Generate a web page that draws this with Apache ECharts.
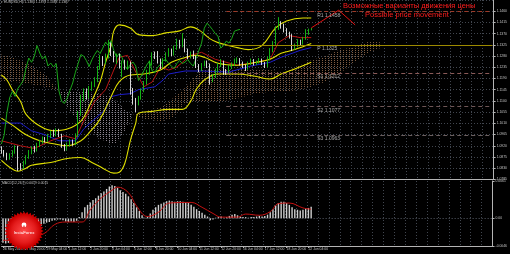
<!DOCTYPE html>
<html><head><meta charset="utf-8">
<script src="https://cdn.jsdelivr.net/npm/echarts@6/dist/echarts.min.js"></script>
<style>html,body{margin:0;padding:0;background:#000;}#c{width:510px;height:254px;}</style>
</head><body><div id="c"></div>
<script>
// ---------- data ----------
const symbolName = 'EURUSD,H4';
const dateLabels = ['26 May 2015','27 May 20:00','29 May 04:00','1 Jun 12:00','2 Jun 20:00','4 Jun 04:00','5 Jun 12:00','8 Jun 20:00','10 Jun 04:00','11 Jun 12:00','12 Jun 20:00','16 Jun 04:00','17 Jun 12:00','18 Jun 20:00','22 Jun 04:00'];
const barsPerLabel = 8;
const slotCount = 180;
// H4 candles: [open, close, low, high]
const ohlc = [
[1.0910,1.0895,1.0888,1.0918],[1.0895,1.0885,1.0876,1.0903],[1.0885,1.0870,1.0862,1.0892],[1.0870,1.0882,1.0864,1.0890],
[1.0882,1.0893,1.0876,1.0902],[1.0893,1.0915,1.0888,1.0922],[1.0915,1.0842,1.0819,1.0920],[1.0842,1.0831,1.0822,1.0850],
[1.0831,1.0852,1.0826,1.0860],[1.0852,1.0874,1.0845,1.0882],[1.0874,1.0895,1.0868,1.0903],[1.0895,1.0910,1.0886,1.0918],
[1.0910,1.0902,1.0893,1.0920],[1.0902,1.0925,1.0897,1.0932],[1.0925,1.0936,1.0915,1.0944],[1.0936,1.0948,1.0928,1.0957],
[1.0948,1.0942,1.0933,1.0955],[1.0942,1.0960,1.0936,1.0968],[1.0960,1.0972,1.0951,1.0981],[1.0972,1.0965,1.0956,1.0985],
[1.0965,1.0982,1.0958,1.0990],[1.0982,1.0962,1.0955,1.0988],[1.0962,1.0920,1.0912,1.0968],[1.0920,1.0908,1.0898,1.0927],
[1.0908,1.0926,1.0901,1.0933],[1.0926,1.0938,1.0918,1.0946],[1.0938,1.0927,1.0920,1.0945],[1.0927,1.0962,1.0922,1.0970],
[1.0962,1.1052,1.0955,1.1060],[1.1052,1.1112,1.1040,1.1125],[1.1112,1.1138,1.1098,1.1150],[1.1138,1.1118,1.1105,1.1150],
[1.1118,1.1150,1.1110,1.1160],[1.1150,1.1165,1.1140,1.1178],[1.1165,1.1182,1.1155,1.1195],[1.1182,1.1232,1.1175,1.1240],
[1.1232,1.1272,1.1225,1.1285],[1.1272,1.1255,1.1240,1.1280],[1.1255,1.1278,1.1248,1.1290],[1.1278,1.1322,1.1270,1.1345],
[1.1322,1.1292,1.1280,1.1335],[1.1292,1.1268,1.1255,1.1300],[1.1268,1.1281,1.1248,1.1290],[1.1281,1.1240,1.1230,1.1290],
[1.1240,1.1252,1.1195,1.1262],[1.1252,1.1236,1.1225,1.1265],[1.1236,1.1250,1.1228,1.1262],[1.1250,1.1140,1.1125,1.1258],
[1.1140,1.1098,1.1085,1.1152],[1.1098,1.1090,1.1055,1.1112],[1.1090,1.1112,1.1082,1.1120],[1.1112,1.1142,1.1105,1.1150],
[1.1142,1.1172,1.1135,1.1180],[1.1172,1.1215,1.1165,1.1225],[1.1215,1.1250,1.1205,1.1262],[1.1250,1.1286,1.1242,1.1295],
[1.1286,1.1280,1.1268,1.1298],[1.1280,1.1262,1.1250,1.1300],[1.1262,1.1238,1.1228,1.1270],[1.1238,1.1265,1.1232,1.1272],
[1.1265,1.1286,1.1258,1.1295],[1.1286,1.1302,1.1278,1.1312],[1.1302,1.1290,1.1280,1.1310],[1.1290,1.1312,1.1282,1.1322],
[1.1312,1.1336,1.1305,1.1350],[1.1336,1.1322,1.1310,1.1345],[1.1322,1.1342,1.1315,1.1372],[1.1342,1.1302,1.1295,1.1350],
[1.1302,1.1276,1.1268,1.1310],[1.1276,1.1290,1.1270,1.1298],[1.1290,1.1275,1.1268,1.1302],[1.1275,1.1240,1.1232,1.1282],
[1.1240,1.1226,1.1215,1.1248],[1.1226,1.1246,1.1220,1.1252],[1.1246,1.1256,1.1238,1.1262],[1.1256,1.1240,1.1232,1.1262],
[1.1240,1.1182,1.1165,1.1250],[1.1182,1.1200,1.1175,1.1208],[1.1200,1.1222,1.1192,1.1230],[1.1222,1.1244,1.1215,1.1252],
[1.1244,1.1260,1.1236,1.1268],[1.1260,1.1220,1.1205,1.1262],[1.1220,1.1214,1.1205,1.1228],[1.1214,1.1236,1.1208,1.1244],
[1.1236,1.1246,1.1228,1.1255],[1.1246,1.1262,1.1240,1.1270],[1.1262,1.1266,1.1252,1.1275],[1.1266,1.1250,1.1242,1.1272],
[1.1250,1.1240,1.1232,1.1258],[1.1240,1.1230,1.1220,1.1246],[1.1230,1.1250,1.1225,1.1258],[1.1250,1.1262,1.1244,1.1270],
[1.1262,1.1250,1.1242,1.1268],[1.1250,1.1256,1.1245,1.1262],[1.1256,1.1266,1.1250,1.1272],[1.1266,1.1250,1.1244,1.1270],
[1.1250,1.1240,1.1232,1.1256],[1.1240,1.1270,1.1235,1.1278],[1.1270,1.1302,1.1262,1.1312],[1.1302,1.1332,1.1295,1.1340],
[1.1332,1.1392,1.1325,1.1400],[1.1392,1.1412,1.1385,1.1436],[1.1412,1.1400,1.1390,1.1420],[1.1400,1.1386,1.1375,1.1410],
[1.1386,1.1370,1.1360,1.1392],[1.1370,1.1360,1.1350,1.1378],[1.1360,1.1312,1.1300,1.1368],[1.1312,1.1322,1.1305,1.1330],
[1.1322,1.1340,1.1315,1.1348],[1.1340,1.1332,1.1322,1.1346],[1.1332,1.1350,1.1326,1.1357],[1.1350,1.1380,1.1345,1.1388],
[1.1380,1.1384,1.1365,1.1390],[1.1384,1.1387,1.1383,1.1393]
];
// yellow band lines: [bar index, price]
const bandUpper = [[0,1.1204],[2,1.1184],[4,1.1145],[7,1.1098],[9,1.1046],[14,1.0999],[19,1.0980],[24,1.0987],[29,1.1019],[32,1.1078],[36,1.1177],[38,1.1255],[40,1.1322],[41,1.1381],[43,1.1405],[47,1.1393],[50,1.1366],[55,1.1362],[60,1.1373],[65,1.1381],[69,1.1397],[72,1.1385],[76,1.1350],[79,1.1334],[86,1.1314],[90,1.1306],[95,1.1322],[100,1.1393],[104,1.1421],[110,1.1433],[113,1.1433]];
const bandMiddle = [[0,1.1031],[4,1.1003],[9,1.0964],[14,1.0940],[19,1.0928],[24,1.0920],[29,1.0940],[32,1.0972],[36,1.1027],[40,1.1117],[43,1.1177],[47,1.1204],[52,1.1208],[58,1.1224],[62,1.1255],[66,1.1271],[71,1.1283],[74,1.1275],[79,1.1251],[86,1.1243],[93,1.1255],[98,1.1267],[102,1.1291],[107,1.1306],[113,1.1330]];
const bandLower = [[0,1.0861],[3,1.0834],[6,1.0818],[9,1.0830],[11,1.0842],[18,1.0853],[24,1.0869],[29,1.0873],[33,1.0853],[37,1.0830],[41,1.0810],[43,1.0814],[45,1.0849],[47,1.0940],[49,1.1011],[50,1.1050],[55,1.1058],[61,1.1066],[66,1.1066],[69,1.1098],[71,1.1145],[74,1.1184],[79,1.1208],[86,1.1208],[92,1.1200],[98,1.1188],[102,1.1208],[107,1.1228],[113,1.1255]];
// Ichimoku lines: [bar index, price]
const tenkan = [[0,1.0940],[7,1.0920],[12,1.0909],[18,1.0940],[23,1.0960],[27,1.0948],[30,1.1019],[34,1.1098],[38,1.1145],[41,1.1224],[43,1.1275],[46,1.1283],[49,1.1216],[52,1.1157],[55,1.1176],[58,1.1236],[61,1.1224],[64,1.1236],[69,1.1283],[73,1.1295],[78,1.1267],[86,1.1243],[93,1.1255],[98,1.1267],[101,1.1334],[105,1.1362],[109,1.1354],[113,1.1354]];
const kijun = [[0,1.1011],[7,1.1011],[11,1.0980],[16,1.0964],[21,1.0940],[27,1.0940],[30,1.0987],[34,1.1027],[38,1.1066],[40,1.1117],[43,1.1125],[47,1.1129],[50,1.1145],[56,1.1157],[59,1.1184],[61,1.1208],[67,1.1220],[73,1.1220],[83,1.1216],[91,1.1240],[98,1.1255],[102,1.1275],[109,1.1303],[113,1.1314]];
const chikouShift = 26;
// Kumo: [bar index, senkou span A, senkou span B]
const cloudEarly = [[0,1.1287,1.1176],[5,1.1271,1.1176],[10,1.1247,1.1169],[16,1.1208,1.1157],[20,1.1153,1.1145],[21,1.1140,1.1140]];
const cloudMid = [[21,1.1140,1.1140],[25,1.1058,1.1137],[30,1.0999,1.1137],[36,1.0948,1.1129],[40,1.0928,1.1117],[42,1.0932,1.1098],[45,1.0980,1.1066],[47,1.1027,1.1050],[48,1.1045,1.1045]];
const cloudLate = [[48,1.1045,1.1045],[52,1.1058,1.1027],[58,1.1074,1.1019],[62,1.1106,1.1027],[67,1.1153,1.1090],[70,1.1192,1.1098],[73,1.1224,1.1098],[79,1.1224,1.1098],[85,1.1228,1.1106],[92,1.1228,1.1129],[98,1.1224,1.1137],[103,1.1216,1.1137],[109,1.1243,1.1145],[113,1.1263,1.1157],[118,1.1279,1.1176],[123,1.1303,1.1208],[129,1.1318,1.1255],[134,1.1338,1.1295],[138,1.1338,1.1310]];
// weekly pivot levels
const pivotNames = ['R1','P','S1','S2','S3'];
const pivotValues = [1.1458,1.1325,1.1212,1.1077,1.0963];
const pivotStartBar = 82;
const pivotLabelBar = 115;
// projected move drawn on chart: [bar index, price]
const projection = [[113,1.1393],[123,1.1464],[129,1.1405]];
// MACD(12,26,9)
const macdHist = [-0.0040,-0.0041,-0.0040,-0.0039,-0.0038,-0.0036,-0.0036,-0.0034,-0.0031,-0.0028,
-0.0025,-0.0022,-0.0019,-0.0015,-0.0012,-0.0009,-0.0007,-0.0006,-0.0004,-0.0003,
-0.0002,-0.0002,-0.0003,-0.0005,-0.0006,-0.0005,-0.0006,-0.0004,0.0002,0.0010,
0.0018,0.0022,0.0026,0.0030,0.0033,0.0037,0.0041,0.0044,0.0048,0.0052,
0.0054,0.0053,0.0050,0.0046,0.0043,0.0040,0.0036,0.0031,0.0025,0.0018,
0.0012,0.0005,0.0001,0.0003,0.0008,0.0014,0.0018,0.0022,0.0024,0.0026,
0.0028,0.0029,0.0028,0.0027,0.0028,0.0028,0.0027,0.0026,0.0025,0.0022,
0.0019,0.0015,0.0012,0.0009,0.0006,0.0003,-0.0003,-0.0002,0.0001,0.0002,
0.0003,0.0001,0.0002,0.0004,0.0006,0.0007,0.0005,0.0003,0.0002,0.0002,
0.0001,0.0002,0.0002,0.0003,0.0004,0.0003,0.0004,0.0006,0.0010,0.0015,
0.0021,0.0025,0.0027,0.0027,0.0025,0.0022,0.0018,0.0015,0.0014,0.0013,
0.0014,0.0016,0.0017,0.0019];
const macdSignal = [[0,-0.0036],[8,-0.0033],[15,-0.0025],[19,-0.0010],[23,-0.0006],[29,-0.0006],[32,0.0014],[36,0.0033],[40,0.0046],[42,0.0051],[46,0.0042],[49,0.0020],[53,0.0003],[57,0.0010],[61,0.0025],[69,0.0026],[73,0.0018],[77,0.0008],[80,0.0002],[86,0.0002],[89,0.0007],[94,0.0005],[98,0.0011],[101,0.0024],[105,0.0025],[110,0.0017],[113,0.0015]];
const macdAxisValues = [-0.0046, 0, 0.0061];

// ---------- styling / build ----------
const FONT = 'Liberation Sans, Arial, sans-serif';
const gridColor = '#41464f';
const axisColor = '#b4b4b4';
const textColor = '#c4c4c4';
const categories = Array.from({length: slotCount}, (_, i) => String(i));
const last = ohlc[ohlc.length - 1];
const lastClose = last[1];
const showLabel = (idx) => idx % barsPerLabel === 0 && idx / barsPerLabel < dateLabels.length;

function dotPattern(color) {
  const c = document.createElement('canvas');
  c.width = 3; c.height = 2;
  const g = c.getContext('2d');
  g.fillStyle = color; g.fillRect(1, 0, 1, 1);
  return { image: c, repeat: 'repeat' };
}
const cloudSegments = [
  { pts: cloudEarly, fill: dotPattern('#7e5c42') },
  { pts: cloudMid, fill: dotPattern('#8a828c') },
  { pts: cloudLate, fill: dotPattern('#7e5c42') }
];

const xBase = {
  type: 'category', data: categories, boundaryGap: true,
  splitLine: { show: true, interval: 3, lineStyle: { color: gridColor, type: [1, 2], width: 1 } }
};

const lineS = (name, data, color, width, smooth) => ({
  name, type: 'line', xAxisIndex: 0, yAxisIndex: 0, data, symbol: 'none', smooth: smooth,
  lineStyle: { color, width }, silent: true, z: 3
});

const pivotStyles = [
  { color: '#9c3a28', type: [4, 3], width: 1 },
  { color: '#9c8a00', type: 'solid', width: 1 },
  { color: '#8a5a58', type: [4, 3], width: 1 },
  { color: '#6e5656', type: [4, 3], width: 1 },
  { color: '#6a5e5e', type: [4, 3], width: 1 }
];

// logo decoration
const logoCx = 24, logoCy = 231;
const starPts = [];
for (let k = 0; k < 72; k++) {
  const a = k * Math.PI / 36, r = (k % 2) ? 17.2 : 19.5;
  starPts.push([logoCx + r * Math.cos(a), logoCy + r * Math.sin(a)]);
}

const option = {
  animation: false,
  backgroundColor: '#000000',
  title: [
    { text: '\u25BE ' + symbolName + ' ' + last[0].toFixed(4) + ' ' + last[3].toFixed(4) + ' ' + last[2].toFixed(4) + ' ' + last[1].toFixed(4),
      left: 1, top: 0.5, padding: 0, textStyle: { color: textColor, fontSize: 3.4, fontWeight: 'normal', fontFamily: FONT } },
    { text: 'MACD(12,26,9) ' + macdHist[macdHist.length - 1].toFixed(4) + ' ' + macdSignal[macdSignal.length - 1][1].toFixed(4),
      left: 2, top: 181.5, padding: 0, textStyle: { color: textColor, fontSize: 3.4, fontWeight: 'normal', fontFamily: FONT } },
    { text: 'Возможные варианты движения цены', left: 343, top: 1.5, padding: 0,
      textStyle: { color: '#ff1c1c', fontSize: 7.5, fontWeight: 'normal', fontFamily: FONT } },
    { text: 'Possible price movement', left: 365, top: 10.5, padding: 0,
      textStyle: { color: '#ff1c1c', fontSize: 7.5, fontWeight: 'normal', fontFamily: FONT } }
  ],
  grid: [
    { left: 0, top: -3.34, width: 495, height: 182.74 },
    { left: 0, top: 181, width: 495, height: 65.5 }
  ],
  xAxis: [
    Object.assign({}, xBase, { gridIndex: 0, axisLine: { show: true, onZero: false, lineStyle: { color: axisColor } }, axisTick: { show: false }, axisLabel: { show: false } }),
    Object.assign({}, xBase, { gridIndex: 1,
      axisLine: { show: true, onZero: false, lineStyle: { color: axisColor } },
      axisTick: { show: true, interval: (i) => showLabel(i), alignWithLabel: true, length: 1.5, lineStyle: { color: axisColor } },
      axisLabel: { show: true, interval: (i) => showLabel(i), formatter: (v, i) => dateLabels[i / barsPerLabel],
        align: 'left', margin: 1.5, fontSize: 3.4, color: textColor, fontFamily: FONT } })
  ],
  yAxis: [
    { type: 'value', gridIndex: 0, position: 'right', min: 1.0785, max: 1.1505, interval: 0.0045,
      axisLine: { show: true, lineStyle: { color: axisColor } },
      axisTick: { show: true, length: 2, lineStyle: { color: axisColor } },
      axisLabel: { fontSize: 3.4, color: textColor, margin: 3, fontFamily: FONT, formatter: (v) => v.toFixed(4), showMaxLabel: false },
      splitLine: { show: true, lineStyle: { color: gridColor, type: [1, 2] } } },
    { type: 'value', gridIndex: 1, position: 'right', min: macdAxisValues[0], max: macdAxisValues[2],
      axisLine: { show: true, lineStyle: { color: axisColor } },
      axisTick: { show: true, length: 2, customValues: macdAxisValues, lineStyle: { color: axisColor } },
      axisLabel: { customValues: macdAxisValues, fontSize: 3.4, color: textColor, margin: 3, fontFamily: FONT,
        formatter: (v) => (Math.abs(v) < 1e-9 ? '0.00' : v.toFixed(4)) },
      splitLine: { show: false } }
  ],
  series: [
    { type: 'custom', name: 'kumo', xAxisIndex: 0, yAxisIndex: 0, silent: true, z: 1,
      data: cloudSegments.map((s) => [s.pts[0][0], s.pts[0][1]]),
      renderItem: (params, api) => {
        const seg = cloudSegments[params.dataIndex];
        const top = seg.pts.map((p) => api.coord([p[0], p[1]]));
        const bot = seg.pts.map((p) => api.coord([p[0], p[2]])).reverse();
        return { type: 'polygon', shape: { points: top.concat(bot) }, style: { fill: seg.fill, stroke: null } };
      } },
    lineS('kijun', kijun, '#1c1cc8', 1, false),
    lineS('tenkan', tenkan, '#b81414', 1, false),
    lineS('upper', bandUpper, '#e0e000', 1.1, 0.4),
    lineS('middle', bandMiddle, '#e0e000', 1.1, 0.4),
    lineS('lower', bandLower, '#e0e000', 1.1, 0.4),
    lineS('chikou', ohlc.slice(chikouShift).map((d, k) => [k, d[1]]), '#1aa81a', 1, false),
    { type: 'candlestick', name: symbolName, xAxisIndex: 0, yAxisIndex: 0, data: ohlc, barWidth: 1.3, z: 4,
      itemStyle: { color: '#000000', color0: '#ffffff', borderColor: '#16c416', borderColor0: '#eeeeee', borderWidth: 0.9 },
      markLine: { silent: true, symbol: ['none', 'none'], animation: false,
        data: [
          [{ coord: projection[0], lineStyle: { color: '#e01010', width: 1, type: 'solid' }, label: { show: false } }, { coord: projection[1] }],
          [{ coord: projection[1], lineStyle: { color: '#e01010', width: 1, type: 'solid' }, label: { show: false } }, { coord: projection[2] }],
          { yAxis: lastClose, lineStyle: { opacity: 0 },
            label: { show: true, position: 'end', distance: 1.5, formatter: lastClose.toFixed(4), backgroundColor: '#ffffff',
              color: '#000000', fontSize: 3.6, fontFamily: FONT, padding: [1, 1, 0.5, 1] } }
        ] } },
    { type: 'scatter', name: 'pivots', xAxisIndex: 0, yAxisIndex: 0, symbolSize: 1, silent: true, z: 5,
      itemStyle: { color: 'transparent' },
      data: pivotValues.map((v, k) => ({ value: [pivotLabelBar, v], name: pivotNames[k] })),
      label: { show: true, position: 'right', distance: 0, offset: [0, 3.5], color: '#cfcfcf', fontSize: 5, fontFamily: FONT,
        formatter: (p) => p.name + ' ' + p.value[1].toFixed(4) },
      markLine: { silent: true, symbol: ['none', 'none'], label: { show: false },
        data: pivotValues.map((v, k) => [{ coord: [pivotStartBar, v], lineStyle: pivotStyles[k] }, { coord: [slotCount - 1, v] }]) } },
    { type: 'bar', name: 'MACD', xAxisIndex: 1, yAxisIndex: 1, data: macdHist, barWidth: 1.4, silent: true,
      itemStyle: { color: '#cfcfcf' },
      markLine: { silent: true, symbol: ['none', 'none'], label: { show: false },
        data: [{ yAxis: 0, lineStyle: { color: '#5a5f6a', type: [1, 2], width: 1 } }] } },
    { type: 'line', name: 'Signal', xAxisIndex: 1, yAxisIndex: 1, data: macdSignal, symbol: 'none', smooth: 0.4,
      lineStyle: { color: '#c41010', width: 1 }, silent: true, z: 4 }
  ],
  graphic: [
    { type: 'polygon', shape: { points: starPts }, style: { fill: '#c80000' }, z: 100, silent: true },
    { type: 'circle', shape: { cx: logoCx, cy: logoCy, r: 16.5 }, z: 101, silent: true,
      style: { fill: { type: 'radial', x: 0.5, y: 0.5, r: 0.5, colorStops: [{ offset: 0, color: '#ff4a4a' }, { offset: 0.7, color: '#e41c1c' }, { offset: 1, color: '#cc0000' }] } } },
    { type: 'circle', shape: { cx: logoCx, cy: logoCy - 6, r: 2.4 }, style: { fill: '#ffffff' }, z: 102, silent: true },
    { type: 'rect', shape: { x: logoCx - 0.6, y: logoCy - 5.5, width: 1.2, height: 3 }, style: { fill: '#e01818' }, z: 103, silent: true },
    { type: 'text', x: logoCx, y: logoCy + 2, z: 103, silent: true,
      style: { text: 'InstaForex', fill: '#ffffff', font: '4.4px ' + FONT, align: 'center', verticalAlign: 'middle', textAlign: 'center', textVerticalAlign: 'middle' } }
  ]
};

const chart = echarts.init(document.getElementById('c'), null, { renderer: 'canvas', width: 510, height: 254 });
chart.setOption(option);
</script>
</body></html>
